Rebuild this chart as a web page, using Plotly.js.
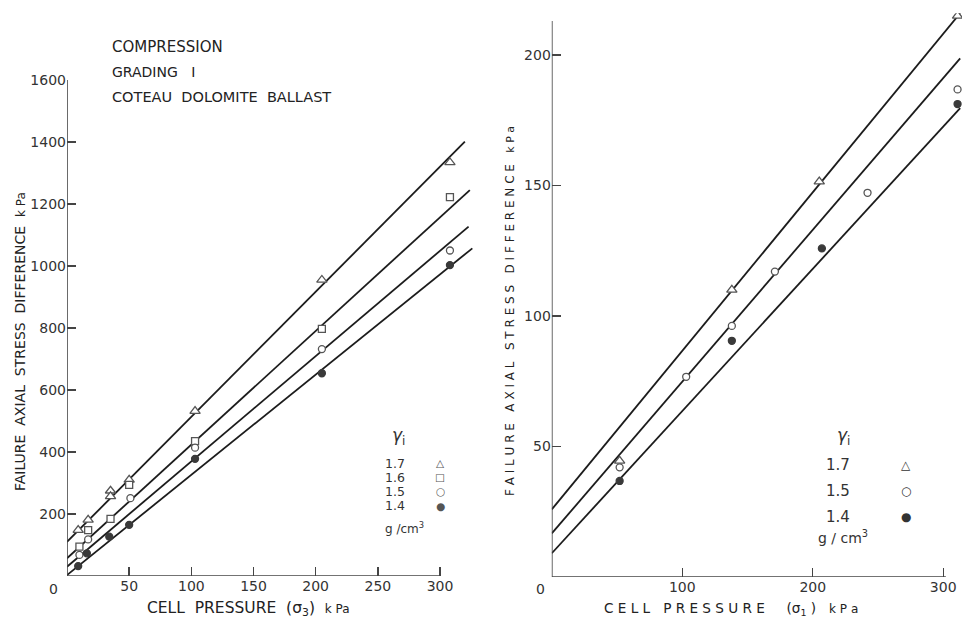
<!DOCTYPE html>
<html>
<head>
<meta charset="utf-8">
<script src="https://cdn.plot.ly/plotly-3.0.1.min.js"></script>
<style>html,body{margin:0;padding:0;background:#fff;}#chart{width:962px;height:623px;}</style>
</head>
<body>
<div id="chart"></div>
<script>
// ---------- LEFT PANEL: Grading I, cell pressure sigma3 ----------
const leftXTicks = [50, 100, 150, 200, 250, 300];
const leftYTicks = [200, 400, 600, 800, 1000, 1200, 1400, 1600];

const left17x = [9, 17, 35, 35, 50, 103, 205, 308];
const left17y = [148, 181, 275, 257, 310, 532, 955, 1334];
const left16x = [10, 17, 35, 50, 103, 205, 308];
const left16y = [95, 148, 184, 294, 435, 797, 1222];
const left15x = [10, 17, 51, 103, 205, 308];
const left15y = [68, 118, 251, 414, 732, 1050];
const left14x = [9, 16, 34, 50, 103, 205, 308];
const left14y = [32, 73, 127, 165, 378, 654, 1003];

const leftFit17x = [0, 320], leftFit17y = [110, 1401];
const leftFit16x = [0, 324], leftFit16y = [57, 1245];
const leftFit15x = [0, 323], leftFit15y = [30, 1127];
const leftFit14x = [0, 326], leftFit14y = [3, 1057];

// ---------- RIGHT PANEL: cell pressure sigma1 ----------
const rightXTicks = [100, 200, 300];
const rightYTicks = [50, 100, 150, 200];

const right17x = [52, 138, 205, 311];
const right17y = [44.5, 110, 151.5, 215];
const right15x = [52, 103, 138, 171, 242, 311];
const right15y = [42, 76.7, 96.2, 117, 147.2, 186.8];
const right14x = [52, 138, 207, 311];
const right14y = [36.8, 90.5, 125.9, 181.2];

const rightFit17x = [0, 313], rightFit17y = [25.9, 216];
const rightFit15x = [0, 313], rightFit15y = [16.7, 198.7];
const rightFit14x = [0, 313], rightFit14y = [9.1, 179.6];

const legendDensLeft = ['1.7', '1.6', '1.5', '1.4'];
const legendSymLeft = ['△', '□', '○', '●'];
const legendDensRight = ['1.7', '1.5', '1.4'];
const legendSymRight = ['△', '○', '●'];

const LINE = '#1c1c1c';
const MK = '#555555';
const FONT = 'DejaVu Sans, Liberation Sans, sans-serif';

function fit(x, y, xa, ya) {
  return {x: x, y: y, xaxis: xa, yaxis: ya, mode: 'lines', type: 'scatter',
          line: {color: LINE, width: 1.8}, hoverinfo: 'skip', showlegend: false};
}
function pts(x, y, xa, ya, sym, filled, size) {
  return {x: x, y: y, xaxis: xa, yaxis: ya, mode: 'markers', type: 'scatter', showlegend: false,
          marker: {symbol: sym, size: size, color: filled ? '#3a3a3a' : '#ffffff',
                   line: {color: filled ? '#3a3a3a' : MK, width: 1.3}}};
}

const traces = [
  fit(leftFit17x, leftFit17y, 'x', 'y'),
  fit(leftFit16x, leftFit16y, 'x', 'y'),
  fit(leftFit15x, leftFit15y, 'x', 'y'),
  fit(leftFit14x, leftFit14y, 'x', 'y'),
  pts(left17x, left17y, 'x', 'y', 'triangle-up', false, 9),
  pts(left16x, left16y, 'x', 'y', 'square', false, 7),
  pts(left15x, left15y, 'x', 'y', 'circle', false, 7),
  pts(left14x, left14y, 'x', 'y', 'circle', true, 7),
  fit(rightFit17x, rightFit17y, 'x2', 'y2'),
  fit(rightFit15x, rightFit15y, 'x2', 'y2'),
  fit(rightFit14x, rightFit14y, 'x2', 'y2'),
  pts(right17x, right17y, 'x2', 'y2', 'triangle-up', false, 9),
  pts(right15x, right15y, 'x2', 'y2', 'circle', false, 7),
  pts(right14x, right14y, 'x2', 'y2', 'circle', true, 7)
];

const W = 962, H = 623;
const px = v => v / W;
const py = v => 1 - v / H;

const tickFont = {family: FONT, size: 14, color: '#333'};
function axisCommon(extra) {
  return Object.assign({
    showgrid: false, zeroline: false, showline: false,
    ticks: 'inside', ticklen: 9, tickwidth: 1.4, tickcolor: '#444',
    tickfont: tickFont, fixedrange: true
  }, extra);
}

const annotations = [];
function txt(x, y, text, opts) {
  annotations.push(Object.assign({
    xref: 'paper', yref: 'paper', x: px(x), y: py(y), text: text, showarrow: false,
    xanchor: 'center', yanchor: 'middle',
    font: {family: FONT, size: 13, color: '#2a2a2a'}
  }, opts || {}));
}

// header text
txt(110, 47, 'COMPRESSION', {xanchor: 'left', font: {family: FONT, size: 15, color: '#222'}});
txt(110, 72, 'GRADING   I', {xanchor: 'left', font: {family: FONT, size: 14, color: '#222'}});
txt(110, 97, 'COTEAU  DOLOMITE  BALLAST', {xanchor: 'left', font: {family: FONT, size: 14.5, color: '#222'}});

// axis titles
const titleFont = {family: FONT, size: 14, color: '#222'};
txt(20, 342, 'FAILURE  AXIAL  STRESS  DIFFERENCE  <span style="font-size:12px">k Pa</span>', {textangle: -90, font: titleFont});
txt(248, 609, 'CELL  PRESSURE  (σ<sub>3</sub>)  <span style="font-size:12px">k Pa</span>', {font: {family: FONT, size: 15.5, color: '#222'}});
txt(510, 311, 'F A I L U R E   A X I A L   S T R E S S   D I F F E R E N C E   <span style="font-size:11px">k P a</span>', {textangle: -90, font: {family: FONT, size: 12, color: '#222'}});
txt(731, 609, 'C E L L   P R E S S U R E     (σ<sub>1</sub> )   <span style="font-size:12px">k P a</span>', {font: {family: FONT, size: 13.6, color: '#222'}});

// corner zeros
txt(53, 589, '0', {font: tickFont});
txt(540, 589, '0', {font: tickFont});

// left legend
txt(398, 436, '<i>γ</i><sub>i</sub>', {font: {family: FONT, size: 17, color: '#333'}});
const lyL = [463, 477, 491, 506];
legendDensLeft.forEach((d, i) => {
  txt(395, lyL[i], d, {font: {family: FONT, size: 12.5, color: '#333'}});
  txt(440, lyL[i], legendSymLeft[i], {font: {family: FONT, size: 10.5, color: MK}});
});
txt(404, 528, 'g /cm<sup>3</sup>', {font: {family: FONT, size: 12, color: '#333'}});

// right legend
txt(843, 436, '<i>γ</i><sub>i</sub>', {font: {family: FONT, size: 17, color: '#333'}});
const lyR = [465, 491, 517];
legendDensRight.forEach((d, i) => {
  txt(838, lyR[i], d, {font: {family: FONT, size: 15, color: '#333'}});
  txt(906, lyR[i], legendSymRight[i], {font: {family: FONT, size: 12, color: '#333'}});
});
txt(843, 537, 'g / cm<sup>3</sup>', {font: {family: FONT, size: 14, color: '#333'}});

const axLine = {color: '#444', width: 1.6};
const shapes = [
  {type: 'line', xref: 'x', yref: 'y', x0: 0, y0: 0, x1: 300, y1: 0, line: axLine},
  {type: 'line', xref: 'x', yref: 'y', x0: 0, y0: 0, x1: 0, y1: 1600, line: axLine},
  {type: 'line', xref: 'x2', yref: 'y2', x0: 0, y0: 0, x1: 302, y1: 0, line: axLine},
  {type: 'line', xref: 'x2', yref: 'y2', x0: 0, y0: 0, x1: 0, y1: 213, line: axLine}
];

const layout = {
  width: W, height: H,
  margin: {l: 0, r: 0, t: 0, b: 0},
  paper_bgcolor: '#ffffff', plot_bgcolor: 'rgba(0,0,0,0)',
  showlegend: false,
  xaxis: axisCommon({domain: [px(67), px(67 + 328 * 1.2433)], range: [0, 328], anchor: 'y',
                     tickvals: leftXTicks, ticktext: leftXTicks.map(String)}),
  yaxis: axisCommon({domain: [py(576), py(80)], range: [0, 1600], anchor: 'x',
                     tickvals: leftYTicks, ticktext: leftYTicks.map(String)}),
  xaxis2: axisCommon({domain: [px(551.8), 1], range: [0, 314.4], anchor: 'y2',
                      tickvals: rightXTicks, ticktext: rightXTicks.map(String)}),
  yaxis2: axisCommon({domain: [py(577), py(13.2)], range: [0, 216], anchor: 'x2',
                      tickvals: rightYTicks, ticktext: rightYTicks.map(String)}),
  annotations: annotations,
  shapes: shapes
};

Plotly.newPlot('chart', traces, layout, {displayModeBar: false, staticPlot: true});
</script>
</body>
</html>
